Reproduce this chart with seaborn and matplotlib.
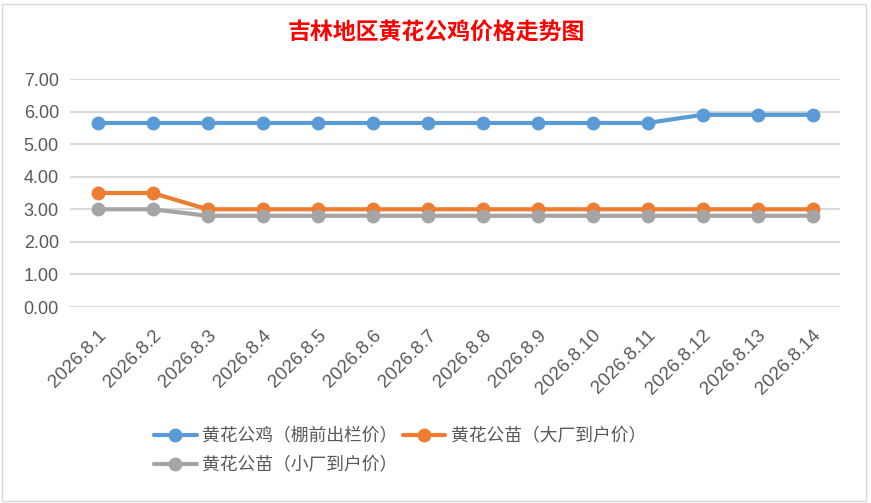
import matplotlib
matplotlib.use("Agg")
import matplotlib.pyplot as plt
import seaborn as sns
import pandas as pd
from matplotlib.patches import Rectangle
from matplotlib.lines import Line2D

dates = ["2026.8.1", "2026.8.2", "2026.8.3", "2026.8.4", "2026.8.5", "2026.8.6", "2026.8.7",
         "2026.8.8", "2026.8.9", "2026.8.10", "2026.8.11", "2026.8.12", "2026.8.13", "2026.8.14"]
rooster = [5.65, 5.65, 5.65, 5.65, 5.65, 5.65, 5.65, 5.65, 5.65, 5.65, 5.65, 5.90, 5.90, 5.90]
chick_big = [3.50, 3.50, 3.00, 3.00, 3.00, 3.00, 3.00, 3.00, 3.00, 3.00, 3.00, 3.00, 3.00, 3.00]
chick_small = [3.00, 3.00, 2.80, 2.80, 2.80, 2.80, 2.80, 2.80, 2.80, 2.80, 2.80, 2.80, 2.80, 2.80]
series_names = ["黄花公鸡（棚前出栏价）", "黄花公苗（大厂到户价）", "黄花公苗（小厂到户价）"]
colors = ["#5B9BD5", "#ED7D31", "#A5A5A5"]
title = "吉林地区黄花公鸡价格走势图"

sns.set_theme(style="white")
plt.rcParams['font.family'] = ['Noto Sans CJK SC', 'DejaVu Sans']

rows = []
for name, vals in zip(series_names, [rooster, chick_big, chick_small]):
    for i, v in enumerate(vals):
        rows.append({"idx": i, "price": v, "series": name})
df = pd.DataFrame(rows)

fig = plt.figure(figsize=(8.71, 5.03), dpi=100)
fig.patch.set_facecolor("white")
W, H = 871, 503
ax = fig.add_axes([70 / W, 1 - 307 / H, (840 - 70) / W, (307 - 79) / H])

sns.lineplot(data=df, x="idx", y="price", hue="series", hue_order=series_names,
             palette=colors, marker="o", markersize=10, markeredgewidth=0,
             linewidth=3, ax=ax, legend=False, zorder=3)

ax.set_xlim(-0.5, 13.5)
ax.set_ylim(0, 7)
ax.set_yticks([0, 1, 2, 3, 4, 5, 6, 7])
ax.set_yticklabels([f"{v:.2f}" for v in range(8)], family="Liberation Sans",
                   fontsize=13, color="#595959")
ax.set_xticks(range(len(dates)))
ax.set_xticklabels(dates, rotation=45, ha="right", rotation_mode="anchor",
                   family="Liberation Sans", fontsize=13.5, color="#595959")
ax.tick_params(axis="both", length=0)
ax.tick_params(axis="y", pad=8)
ax.tick_params(axis="x", pad=14)
ax.yaxis.grid(True, color="#D9D9D9", linewidth=1.5)
ax.xaxis.grid(False)
for s in ax.spines.values():
    s.set_visible(False)
ax.set_xlabel("")
ax.set_ylabel("")

fig.text(436 / W, 1 - 33 / H, title, ha="center", va="center", fontsize=16.5,
         fontweight="bold", color="#FF0000")

handles = [Line2D([], [], color=c, linewidth=3, marker="o", markersize=10, markeredgewidth=0)
           for c in colors]
order = [0, 2, 1]
leg = fig.legend([handles[i] for i in order], [series_names[i] for i in order],
                 ncol=2, loc="upper left", bbox_to_anchor=(154 / W, 1 - 427 / H),
                 frameon=False, fontsize=12.8, handlelength=2.4, handletextpad=0.3,
                 columnspacing=0.3, labelspacing=0.62, borderpad=0, borderaxespad=0,
                 labelcolor="#595959")

fig.patches.append(Rectangle((2 / W, 2 / H), 864 / W, 497 / H, transform=fig.transFigure,
                             fill=False, edgecolor="#D9D9D9", linewidth=1))

fig.savefig("out.png", dpi=100, facecolor="white")
